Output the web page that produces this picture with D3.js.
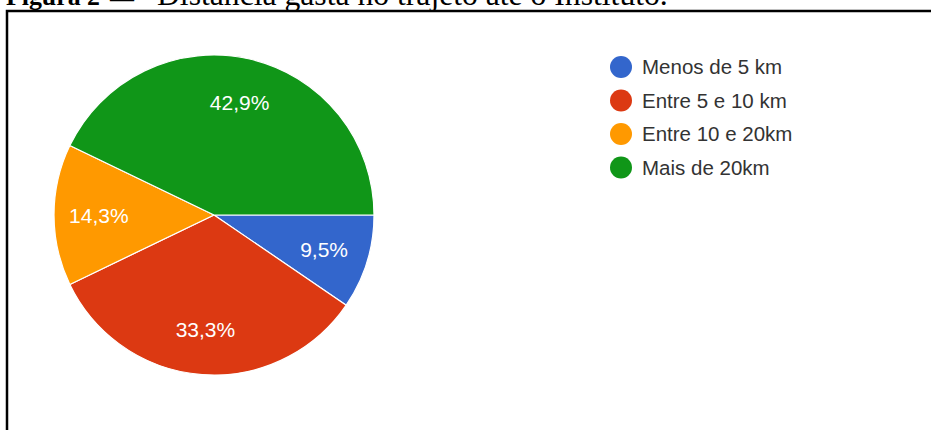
<!DOCTYPE html>
<html>
<head>
<meta charset="utf-8">
<script src="https://cdn.jsdelivr.net/npm/d3@7"></script>
<style>
  body { margin: 0; background: #fff; }
</style>
</head>
<body>
<div id="graph"></div>
<script>
// data (21 answers)
const categories = ["Menos de 5 km", "Entre 5 e 10 km", "Entre 10 e 20km", "Mais de 20km"];
const counts = [2, 7, 3, 9];
const labels = ["9,5%", "33,3%", "14,3%", "42,9%"];
const colors = ["#3366cc", "#dc3912", "#ff9900", "#109618"];

const width = 931, height = 430;

const svg = d3.select("#graph")
  .append("svg")
  .attr("width", width)
  .attr("height", height);

//fit a text to a given width by changing its font size
function fitText(sel, target) {
  const w = sel.node().getComputedTextLength();
  const fs = parseFloat(sel.style("font-size"));
  sel.style("font-size", (fs * target / w) + "px");
}

//title of the figure, cut at top
const serif = "'Liberation Serif', 'Times New Roman', serif";
const t1 = svg.append("text")
  .attr("x", 6).attr("y", 5)
  .style("font-family", serif).style("font-size", "26px").style("font-weight", "bold")
  .text("Figura 2");
fitText(t1, 94);
svg.append("text")
  .attr("x", 110).attr("y", 5.5)
  .style("font-family", serif).style("font-size", "24px")
  .text("—");
const t2 = svg.append("text")
  .attr("x", 157).attr("y", 5)
  .style("font-family", serif).style("font-size", "30px")
  .text("Distância gasta no trajeto até o Instituto.");
fitText(t2, 511);

//frame round the chart
svg.append("rect")
  .attr("x", 7)
  .attr("y", 11)
  .attr("width", 960)
  .attr("height", 460)
  .attr("fill", "none")
  .attr("stroke", "#000")
  .attr("stroke-width", 2.5);

//pie
const cx = 214, cy = 215, radius = 160;
const pie = d3.pie().sort(null)
  .startAngle(Math.PI / 2)
  .endAngle(Math.PI / 2 + 2 * Math.PI);
const arcs = pie(counts);
const arc = d3.arc().innerRadius(0).outerRadius(radius);
const labelArc = d3.arc().innerRadius(radius * 0.72).outerRadius(radius * 0.72);

const g = svg.append("g").attr("transform", "translate(" + cx + "," + cy + ")");

g.selectAll("path")
  .data(arcs)
  .enter()
  .append("path")
  .attr("d", arc)
  .attr("fill", (d, i) => colors[i])
  .attr("stroke", "#fff")
  .attr("stroke-width", 1.2);

g.selectAll("text")
  .data(arcs)
  .enter()
  .append("text")
  .attr("transform", d => "translate(" + labelArc.centroid(d) + ")")
  .attr("text-anchor", "middle")
  .attr("dy", "0.36em")
  .style("font-family", "Arial, 'Liberation Sans', sans-serif")
  .style("font-size", "21px")
  .attr("fill", "#fff")
  .text((d, i) => labels[i]);

//legend
const legend = svg.append("g").attr("transform", "translate(621,67)");
const item = legend.selectAll("g")
  .data(categories)
  .enter()
  .append("g")
  .attr("transform", (d, i) => "translate(0," + i * 33.5 + ")");

item.append("circle")
  .attr("r", 11)
  .attr("fill", (d, i) => colors[i]);

item.append("text")
  .attr("x", 21)
  .attr("dy", "0.36em")
  .style("font-family", "Arial, 'Liberation Sans', sans-serif")
  .style("font-size", "20.5px")
  .attr("fill", "#333")
  .text(d => d);
</script>
</body>
</html>
